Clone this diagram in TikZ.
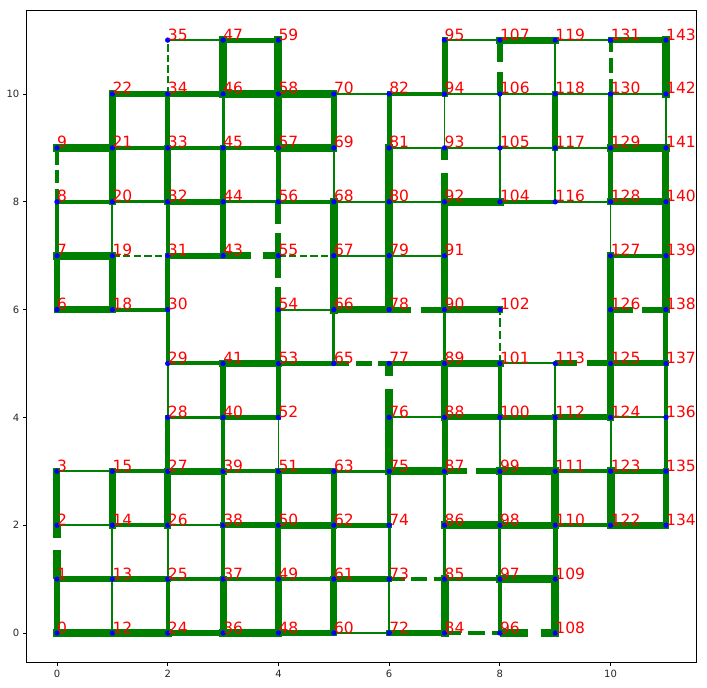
\documentclass[tikz,border=0pt]{standalone}
\usepackage{fontspec}
\setmainfont{DejaVu Sans}
\definecolor{pgreen}{HTML}{008000}
\definecolor{pblue}{HTML}{0000FF}
\definecolor{pred}{HTML}{FF0000}
\definecolor{tickgray}{HTML}{262626}
\pgfdeclarelayer{front}
\pgfsetlayers{main,front}
\tikzset{
  vtx/.style={circle, fill=pblue, inner sep=0pt, minimum size=5.4pt},
  lbl/.style={anchor=base west, inner sep=0pt, text=pred,
              font=\fontsize{15.5}{18}\selectfont},
  ed/.style={draw=pgreen, line width=#1pt, line cap=rect},
  edd/.style={draw=pgreen, line width=#1pt, line cap=butt,
              dash pattern=on 3.7\pgflinewidth off 1.6\pgflinewidth},
  tck/.style={inner sep=0pt, text=tickgray, font=\fontsize{10}{12}\selectfont}
}

\begin{document}
\begin{tikzpicture}[x=55.36pt, y=53.9pt]
\useasboundingbox (-1.0296,-1.0019) rectangle (11.7413,11.7440);
% axes frame and ticks
\draw[line width=0.8pt] (-0.55,-0.55) rectangle (11.55,11.55);
\foreach \v in {0,2,...,10} {
  \draw[line width=0.8pt] (\v,-0.55) -- ++(0,-3.5pt);
  \node[tck, anchor=north] (xt\v) at ([yshift=-7pt]\v,-0.55) {\v};
  \draw[line width=0.8pt] (-0.55,\v) -- ++(-3.5pt,0);
  \node[tck, anchor=east] (yt\v) at ([xshift=-7pt]-0.55,\v) {\v};
}
% grid nodes, id = 12x+y
\begin{pgfonlayer}{front}
\foreach \cx/\ys in {0/{0,1,2,3,6,7,8,9}, 1/{0,1,2,3,6,7,8,9,10}, 2/{0,...,11},
    3/{0,1,2,3,4,5,7,8,9,10,11}, 4/{0,...,11}, 5/{0,1,2,3,5,6,7,8,9,10},
    6/{0,...,10}, 7/{0,...,11}, 8/{0,1,2,3,4,5,6,8,9,10,11},
    9/{0,1,2,3,4,5,8,9,10,11}, 10/{2,...,11}, 11/{2,...,11}}
  \foreach \cy in \ys {
    \pgfmathtruncatemacro\id{12*\cx+\cy}
    \node[vtx] (n\id) at (\cx,\cy) {};
    \node[lbl] (t\id) at (n\id.center) {\id};
  }
\end{pgfonlayer}
% vertical edges
\foreach \a/\b/\w in {0/1/5.5, 2/3/7, 6/7/6, 7/8/4.5,
    12/13/2, 13/14/1.8, 14/15/7, 18/19/7, 19/20/1.8, 20/21/7, 21/22/7,
    24/25/3.7, 25/26/2.3, 26/27/7, 27/28/4.5, 28/29/1.8, 29/30/4, 30/31/5,
    31/32/4, 32/33/6.7, 33/34/4.5,
    36/37/7, 37/38/3.3, 38/39/4.5, 39/40/4.5, 40/41/5.3, 43/44/6, 44/45/5.5,
    45/46/3, 46/47/7.3,
    48/49/7, 49/50/6, 50/51/7.5, 51/52/1.7, 52/53/5.3, 53/54/6, 56/57/4.5,
    57/58/8, 58/59/8,
    60/61/6.7, 61/62/4.7, 62/63/5.7, 65/66/3.3, 66/67/8, 67/68/8, 68/69/1.7,
    69/70/5.7,
    72/73/1.7, 73/74/3.3, 74/75/4, 75/76/7.7, 78/79/7.5, 79/80/7.5, 80/81/7.5,
    81/82/5,
    84/85/8, 85/86/3.3, 86/87/3.3, 87/88/6, 88/89/7.3, 89/90/3.3, 90/91/7.3,
    91/92/7.3, 93/94/1.7, 94/95/6,
    96/97/4, 97/98/3, 98/99/4.3, 99/100/2.3, 100/101/4.3, 104/105/1.7,
    105/106/1.7,
    108/109/8, 109/110/4.7, 110/111/8, 111/112/4.3, 112/113/2.3, 116/117/1.7,
    117/118/6, 118/119/1.7,
    122/123/8, 123/124/2, 124/125/6.3, 125/126/6.3, 126/127/7.3, 127/128/1.7,
    128/129/4.7, 129/130/4.3,
    134/135/6, 135/136/4.3, 136/137/4.3, 137/138/5, 138/139/7.3, 139/140/7.7,
    140/141/7, 141/142/1.7, 142/143/7.7}
  \draw[ed=\w] (n\a.center) -- (n\b.center);
% horizontal edges
\foreach \a/\b/\w in {0/12/7.7, 12/24/7.7, 24/36/5.7, 36/48/7.7, 48/60/5.7,
    60/72/2.3, 72/84/5.7,
    1/13/5.7, 13/25/5.7, 25/37/4.3, 37/49/4, 49/61/4.3, 61/73/5.7, 85/97/3.3,
    97/109/7.3,
    2/14/2, 14/26/4.3, 26/38/2.3, 38/50/6, 50/62/6.7, 62/74/5.3, 86/98/8,
    98/110/6.7, 110/122/3.7, 122/134/7,
    3/15/2, 15/27/4.3, 27/39/7.3, 39/51/4, 51/63/5.7, 63/75/3.3, 75/87/7.7,
    99/111/7.7, 111/123/4, 123/135/5.3,
    28/40/2.3, 40/52/4.5, 76/88/2, 88/100/6, 100/112/4.7, 112/124/6, 124/136/2,
    29/41/4, 41/53/7.3, 53/65/4.7, 77/89/5.3, 89/101/7.7, 101/113/2,
    125/137/6,
    6/18/6.7, 18/30/4, 54/66/2, 66/78/7.3, 90/102/6.7,
    7/19/7.7, 31/43/5.7, 67/79/2, 79/91/2, 127/139/4,
    8/20/3.7, 20/32/3.3, 32/44/5.7, 44/56/3.3, 56/68/3.7, 68/80/2, 80/92/2,
    92/104/7.7, 104/116/4.3, 116/128/2, 128/140/7,
    9/21/7.3, 21/33/3.3, 33/45/3.3, 45/57/4, 57/69/7.3, 81/93/2, 93/105/2,
    105/117/2, 117/129/2, 129/141/7.3,
    22/34/6.7, 34/46/6.7, 46/58/7.3, 58/70/7.3, 70/82/2, 82/94/4.3, 94/106/2,
    106/118/2, 118/130/2, 130/142/2,
    35/47/2, 47/59/5, 95/107/2, 107/119/7, 119/131/2, 131/143/5.5}
  \draw[ed=\w] (n\a.center) -- (n\b.center);
% dashed edges
\foreach \a/\b/\w in {1/2/7.8, 8/9/3.5, 34/35/2, 54/55/6, 55/56/6, 76/77/7.8,
    92/93/7.8, 101/102/2.3, 106/107/6, 130/131/4,
    84/96/4.5, 96/108/7.7, 73/85/4.2, 87/99/6, 65/77/4.2, 113/125/6,
    78/90/6, 126/138/6, 19/31/2, 43/55/7.5, 55/67/2}
  \draw[edd=\w] (n\a.center) -- (n\b.center);
\end{tikzpicture}
\end{document}
